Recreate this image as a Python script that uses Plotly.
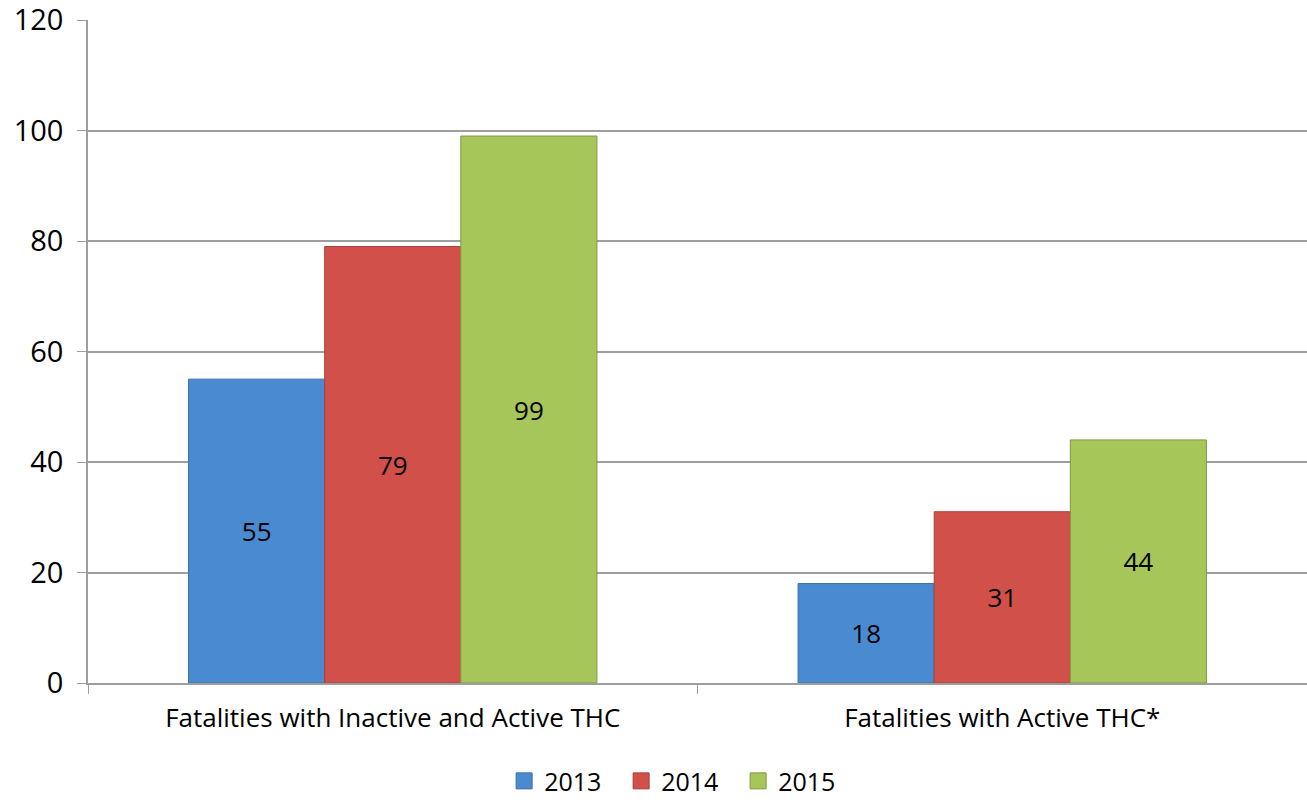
import plotly.graph_objects as go

categories = ["Fatalities with Inactive and Active THC", "Fatalities with Active THC*"]
years = ["2013", "2014", "2015"]
values_2013 = [55, 18]
values_2014 = [79, 31]
values_2015 = [99, 44]
y_ticks = [0, 20, 40, 60, 80, 100, 120]

series = [values_2013, values_2014, values_2015]
fills = ["#4a8ad0", "#d1514a", "#a6c659"]
edges = ["#3a6fa6", "#a93f39", "#7f9a40"]

fig = go.Figure()
for year, vals, fc, ec in zip(years, series, fills, edges):
    fig.add_trace(go.Bar(
        name=year,
        x=categories,
        y=vals,
        text=[str(v) for v in vals],
        textposition="inside",
        insidetextanchor="middle",
        textangle=0,
        textfont=dict(family="Open Sans", size=26, color="#000000"),
        marker=dict(color=fc, line=dict(color=ec, width=1)),
        showlegend=False,
    ))

# larger square swatches for the legend
for year, fc, ec in zip(years, fills, edges):
    fig.add_trace(go.Scatter(
        name=year,
        x=[None],
        y=[None],
        mode="markers",
        marker=dict(symbol="square", size=20, color=fc, line=dict(color=ec, width=1)),
        showlegend=True,
    ))

fig.update_layout(
    width=1307,
    height=802,
    margin=dict(l=88, r=0, t=20, b=119, autoexpand=False),
    paper_bgcolor="white",
    plot_bgcolor="white",
    barmode="group",
    bargap=0.33,
    bargroupgap=0,
    font=dict(family="Open Sans", color="#000000"),
    legend=dict(
        orientation="h",
        x=0.52,
        xanchor="center",
        xref="container",
        y=-0.148,
        yanchor="middle",
        yref="paper",
        font=dict(size=25),
        itemwidth=30,
        entrywidth=72,
        entrywidthmode="pixels",
        itemsizing="trace",
        tracegroupgap=0,
    ),
    xaxis=dict(
        showline=True,
        linecolor="#9e9e9e",
        linewidth=1.5,
        ticks="outside",
        tickson="boundaries",
        ticklen=9,
        tickcolor="#9e9e9e",
        tickfont=dict(size=26),
        showgrid=False,
        ticklabelstandoff=11,
    ),
    yaxis=dict(
        range=[0, 120],
        tickvals=y_ticks,
        showline=True,
        linecolor="#9e9e9e",
        linewidth=1.5,
        ticks="outside",
        ticklen=9,
        tickcolor="#9e9e9e",
        tickfont=dict(size=29),
        ticklabeloverflow="allow",
        showgrid=True,
        gridcolor="#9e9e9e",
        gridwidth=1.5,
        zeroline=False,
        ticklabelstandoff=8,
    ),
)

fig.write_html("out.html")
